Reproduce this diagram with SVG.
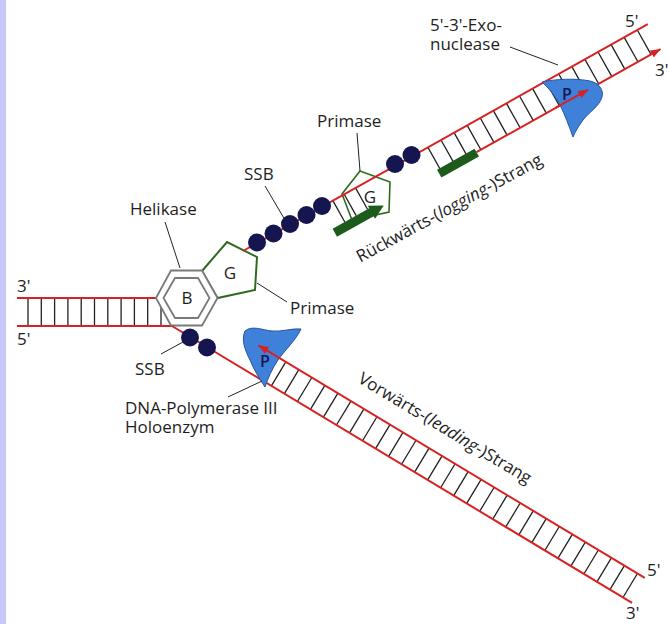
<svg xmlns="http://www.w3.org/2000/svg" width="669" height="624" viewBox="0 0 669 624">
  <style>
    .lbl { font-family: "Open Sans", "Liberation Sans", sans-serif; font-size: 17px; fill: #1e1e1e; }
    .plbl { font-family: "Open Sans", "Liberation Sans", sans-serif; font-size: 16px; font-weight: 600; fill: #15154f; }
    .strand { stroke: #d62222; stroke-width: 2; fill: none; }
    .rung { stroke: #222; stroke-width: 1.3; fill: none; }
    .lead { stroke: #222; stroke-width: 1; fill: none; }
    .ssb { fill: #15154f; }
    .pol { fill: #3f80d8; stroke: #2456a6; stroke-width: 1; }
    .hex { fill: #fff; stroke: #7a7a7a; stroke-width: 1.8; }
    .pent { fill: #fff; stroke: #2f6b1c; stroke-width: 2; }
    .primer { fill: #1d5b1d; }
  </style>
  <defs>
    <marker id="arrRed" viewBox="0 0 10 8" refX="10" refY="4" markerWidth="10" markerHeight="8" markerUnits="userSpaceOnUse" orient="auto">
      <path d="M0,0 L10,4 L0,8 Z" fill="#d62222"/>
    </marker>
  </defs>

  <rect x="0" y="0" width="669" height="624" fill="#fff"/>
  <rect x="0" y="0" width="6" height="624" fill="#c9c9f7"/>

  <!-- parental double strand, left -->
  <g id="parental-dna">
    <path class="rung" d="M28,298V326 M41.3,298V326 M54.6,298V326 M67.9,298V326 M81.2,298V326 M94.5,298V326 M107.8,298V326 M121.1,298V326 M134.4,298V326 M147.7,298V326 M161,298V326"/>
    <path class="strand" d="M17,298H160"/>
    <path class="strand" d="M17,326H172"/>
    <text class="lbl" x="17" y="292">3'</text>
    <text class="lbl" x="17" y="345">5'</text>
  </g>

  <!-- primase at the fork (G) -->
  <g id="primase-fork">
    <polygon class="pent" points="202,271 227,242 257,257 255,290 217.5,298"/>
    <text class="lbl" x="230" y="279" text-anchor="middle">G</text>
  </g>

  <!-- helicase (B) -->
  <g id="helicase">
    <polygon class="hex" points="156,298 171,270.5 202,270.5 217.5,298 202,325.5 171,325.5"/>
    <polygon class="hex" points="163.5,298 175,278 198,278 209.5,298 198,318 175,318"/>
    <text class="lbl" x="187" y="304" text-anchor="middle">B</text>
  </g>

  <!-- primase on the lagging strand -->
  <g id="primase-lagging">
    <polygon class="pent" style="stroke-width:1.6" points="360,171 390,182 389,212 352,220 342,194"/>
    <text class="lbl" x="370" y="203" text-anchor="middle">G</text>
  </g>

  <!-- lagging strand: local frame along the template -->
  <g id="lagging-strand" transform="translate(243,251) rotate(-29.27)">
    <path class="rung" d="M103,0V24.5 M116,0V24.5 M129,0V24.5"/>
    <path class="rung" d="M212,0V28 M227,0V28 M242,0V28 M257,0V28 M272,0V28 M287,0V28 M302,0V28 M317,0V28 M332,0V28 M347,0V28 M362,0V28 M377,0V28 M392,0V28 M407,0V28 M422,0V28 M437,0V28 M452,0V28"/>
    <path class="strand" d="M0,0H464"/>
    <path class="strand" d="M252,28H463" marker-end="url(#arrRed)"/>
    <rect class="primer" x="209" y="24" width="43" height="9"/>
    <path class="primer" d="M89,24.5H131V21.5L145,29L131,36.5V33.5H89Z"/>
  </g>

  <!-- leading strand: local frame along the template -->
  <g id="leading-strand" transform="translate(172,326) rotate(31.05)">
    <path class="rung" d="M116,-28V0 M131.2,-28V0 M146.4,-28V0 M161.6,-28V0 M176.8,-28V0 M192,-28V0 M207.2,-28V0 M222.4,-28V0 M237.6,-28V0 M252.8,-28V0 M268,-28V0 M283.2,-28V0 M298.4,-28V0 M313.6,-28V0 M328.8,-28V0 M344,-28V0 M359.2,-28V0 M374.4,-28V0 M389.6,-28V0 M404.8,-28V0 M420,-28V0 M435.2,-28V0 M450.4,-28V0 M465.6,-28V0 M480.8,-28V0 M496,-28V0 M511.2,-28V0 M526.4,-28V0"/>
    <path class="strand" d="M0,0H537"/>
  </g>

  <!-- single-strand binding proteins -->
  <g id="ssb">
    <circle class="ssb" cx="257" cy="242.5" r="9"/>
    <circle class="ssb" cx="273.5" cy="233.5" r="9"/>
    <circle class="ssb" cx="290" cy="224" r="9"/>
    <circle class="ssb" cx="306.5" cy="215" r="9"/>
    <circle class="ssb" cx="322" cy="206" r="9"/>
    <circle class="ssb" cx="395" cy="164" r="9"/>
    <circle class="ssb" cx="411.5" cy="155" r="9"/>
    <circle class="ssb" cx="190" cy="337.5" r="9"/>
    <circle class="ssb" cx="207" cy="347.5" r="9"/>
  </g>

  <!-- DNA polymerase III on the lagging strand -->
  <g id="polymerase-lagging">
    <path class="pol" d="M542,82 C556,79 575,78 590,81 C599,83 604,90 602,97 C599,107 589,112 583,120 C578,127 575,132 573,137 C569,126 565,115 560,105 C555,96 549,88 542,82 Z"/>
    <text class="plbl" x="567" y="100" text-anchor="middle">P</text>
    <g transform="translate(243,251) rotate(-29.27)">
      <path class="strand" d="M343,28H380" marker-end="url(#arrRed)"/>
    </g>
  </g>

  <!-- DNA polymerase III holoenzyme on the leading strand -->
  <g id="polymerase-leading">
    <path class="pol" d="M245,331 C252,325 262,330 272,331 C282,332 292,328 301,329 C296,340 285,350 278,360 C272,369 268,378 265,387 C259,378 254,370 250,360 C245,350 241,340 245,331 Z"/>
    <text class="plbl" x="265" y="367" text-anchor="middle">P</text>
    <g transform="translate(172,326) rotate(31.05)">
      <path class="strand" d="M535,-28H84" marker-end="url(#arrRed)"/>
    </g>
  </g>

  <!-- label leader lines -->
  <g id="leaders">
    <path class="lead" d="M165,222L180,268"/>
    <path class="lead" d="M265,186L285,220"/>
    <path class="lead" d="M357,133L360,171"/>
    <path class="lead" d="M257,283L287,302"/>
    <path class="lead" d="M161,354L183,342"/>
    <path class="lead" d="M228,397L262,381"/>
    <path class="lead" d="M510,47L558,65"/>
  </g>

  <!-- labels -->
  <g id="labels">
    <text class="lbl" x="130" y="215">Helikase</text>
    <text class="lbl" x="244" y="180">SSB</text>
    <text class="lbl" x="317" y="127">Primase</text>
    <text class="lbl" x="290" y="314">Primase</text>
    <text class="lbl" x="135" y="375">SSB</text>
    <text class="lbl" x="125" y="414">DNA-Polymerase III</text>
    <text class="lbl" x="125" y="433">Holoenzym</text>
    <text class="lbl" x="430" y="31">5'-3'-Exo-</text>
    <text class="lbl" x="430" y="50">nuclease</text>
    <text class="lbl" x="625" y="27">5'</text>
    <text class="lbl" x="655" y="76">3'</text>
    <text class="lbl" x="647" y="576">5'</text>
    <text class="lbl" x="626" y="619">3'</text>
    <text class="lbl" text-anchor="middle" transform="translate(452,213) rotate(-28.5)">Rückwärts-(<tspan font-style="italic">logging</tspan>-)Strang</text>
    <text class="lbl" text-anchor="middle" transform="translate(442,433) rotate(31)">Vorwärts-(<tspan font-style="italic">leading</tspan>-)Strang</text>
  </g>
</svg>
